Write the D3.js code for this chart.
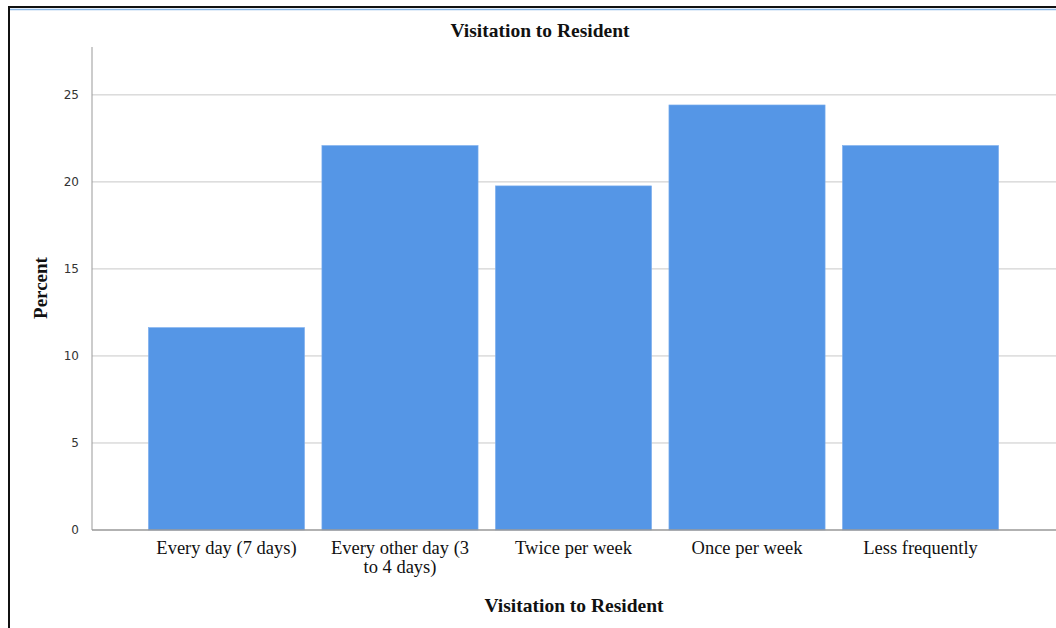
<!DOCTYPE html>
<html>
<head>
<meta charset="utf-8">
<script src="https://cdn.jsdelivr.net/npm/d3@7"></script>
<style>
  body { margin: 0; background: #fff; }
  svg { display: block; }
</style>
</head>
<body>
<script>
(function(){

	//chart data
	var categories = ["Every day (7 days)", "Every other day (3 to 4 days)", "Twice per week", "Once per week", "Less frequently"];
	var percents = [11.63, 22.09, 19.77, 24.42, 22.09];
	var yTicks = [0, 5, 10, 15, 20, 25];

	var width = 1056,
		height = 628;

	var svg = d3.select("body")
		.append("svg")
		.attr("width", width)
		.attr("height", height);

	//frame of the cropped figure
	svg.append("line")
		.attr("x1", 8).attr("x2", width).attr("y1", 7).attr("y2", 7)
		.attr("stroke", "#111").attr("stroke-width", 2);
	svg.append("line")
		.attr("x1", 10).attr("x2", width).attr("y1", 9.5).attr("y2", 9.5)
		.attr("stroke", "#8cb8e6").attr("stroke-width", 1.5);
	svg.append("line")
		.attr("x1", 9).attr("x2", 9).attr("y1", 6).attr("y2", height)
		.attr("stroke", "#111").attr("stroke-width", 2);

	//scales
	var x = d3.scaleBand()
		.domain(categories)
		.range([92, 1055])
		.paddingInner(0.1)
		.paddingOuter(0.325);

	var y = d3.scaleLinear()
		.domain([0, 27.75])
		.range([530, 47]);

	//gridlines
	svg.append("g")
		.selectAll("line")
		.data(yTicks.filter(function(d){ return d > 0; }))
		.enter()
		.append("line")
		.attr("x1", 92).attr("x2", width)
		.attr("y1", function(d){ return y(d); })
		.attr("y2", function(d){ return y(d); })
		.attr("stroke", "#c8c8c8")
		.attr("stroke-width", 1);

	//bars
	svg.append("g")
		.selectAll("rect")
		.data(percents)
		.enter()
		.append("rect")
		.attr("x", function(d, i){ return x(categories[i]); })
		.attr("y", function(d){ return y(d); })
		.attr("width", x.bandwidth())
		.attr("height", function(d){ return y(0) - y(d); })
		.attr("fill", "#5596e6")
		.attr("stroke", "#7fb0ee")
		.attr("stroke-width", 0.6);

	//y axis
	var yAxis = svg.append("g")
		.attr("transform", "translate(92,0)")
		.call(d3.axisLeft(y).tickValues(yTicks).tickSize(0).tickPadding(13));
	yAxis.select(".domain").attr("stroke", "#999").attr("d", "M0,47V530");
	yAxis.selectAll("text")
		.attr("font-family", "'DejaVu Sans', sans-serif")
		.attr("font-size", 12)
		.attr("fill", "#333");

	//x axis
	var xAxis = svg.append("g")
		.attr("transform", "translate(0,530)")
		.call(d3.axisBottom(x).tickSize(0).tickPadding(10));
	xAxis.select(".domain").attr("stroke", "#999").attr("stroke-width", 1.5).attr("d", "M92,0H" + width);
	xAxis.selectAll("text").remove();

	//category labels, wrapped like the original
	var labelLines = [["Every day (7 days)"], ["Every other day (3", "to 4 days)"], ["Twice per week"], ["Once per week"], ["Less frequently"]];
	xAxis.selectAll(".tick").each(function(d, i){
		var t = d3.select(this).append("text")
			.attr("text-anchor", "middle")
			.attr("font-family", "'Liberation Serif', 'Times New Roman', serif")
			.attr("font-size", 18.5)
			.attr("fill", "#111");
		labelLines[i].forEach(function(line, j){
			t.append("tspan").attr("x", 0).attr("y", 24 + j * 19).text(line);
		});
	});

	//titles
	svg.append("text")
		.attr("x", 540).attr("y", 37)
		.attr("text-anchor", "middle")
		.attr("font-family", "'Liberation Serif', 'Times New Roman', serif")
		.attr("font-weight", "bold")
		.attr("font-size", 19.5)
		.attr("fill", "#111")
		.text("Visitation to Resident");

	svg.append("text")
		.attr("x", 574).attr("y", 612)
		.attr("text-anchor", "middle")
		.attr("font-family", "'Liberation Serif', 'Times New Roman', serif")
		.attr("font-weight", "bold")
		.attr("font-size", 19.5)
		.attr("fill", "#111")
		.text("Visitation to Resident");

	svg.append("text")
		.attr("transform", "translate(47,288) rotate(-90)")
		.attr("text-anchor", "middle")
		.attr("font-family", "'Liberation Serif', 'Times New Roman', serif")
		.attr("font-weight", "bold")
		.attr("font-size", 19)
		.attr("fill", "#111")
		.text("Percent");

})();
</script>
</body>
</html>
